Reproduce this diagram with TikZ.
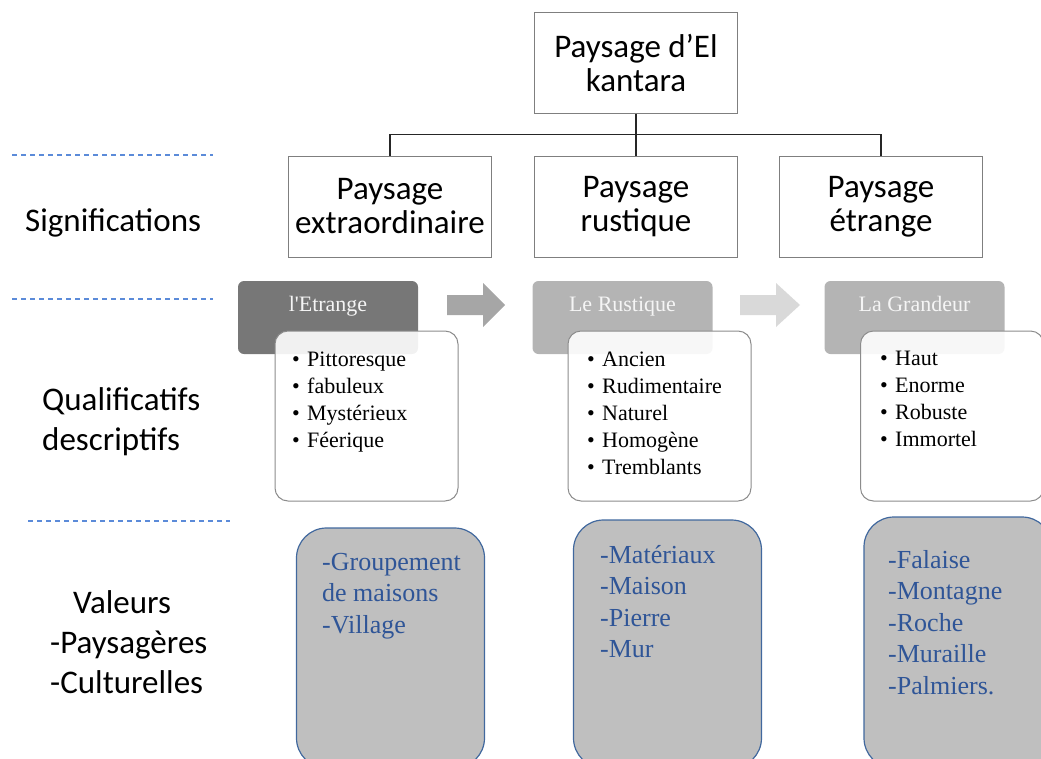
\documentclass[tikz,border=0pt]{standalone}
\usepackage{fontspec}
\setmainfont{Liberation Serif}
\newfontfamily\labelfont{Carlito}
\usetikzlibrary{positioning}

\definecolor{boxgray}{HTML}{7F7F7F}
\definecolor{listgray}{HTML}{8C8C8C}
\definecolor{darkhead}{HTML}{777777}
\definecolor{lighthead}{HTML}{B4B4B4}
\definecolor{arrowmid}{HTML}{A6A6A6}
\definecolor{arrowlight}{HTML}{D9D9D9}
\definecolor{valuegray}{HTML}{BFBFBF}
\definecolor{valueblue}{HTML}{41689E}
\definecolor{valuetext}{HTML}{2F5597}
\definecolor{rowblue}{HTML}{5B8BD9}

\tikzset{
  % boxes of the tree
  tree box/.style = {
    draw = boxgray,
    line width = 1pt,
    fill = white,
    minimum width = 203pt,
    minimum height = 101pt,
    align = center,
    inner sep = 0,
    font = \labelfont\fontsize{33}{34}\selectfont
  },
  tree line/.style = {
    draw = black!85,
    line width = 1.4pt
  },
  % row titles on the left
  row label/.style = {
    anchor = base west,
    inner sep = 0,
    font = \labelfont\fontsize{33}{40}\selectfont
  },
  row line/.style = {
    draw = rowblue,
    line width = 1.2pt,
    dash pattern = on 5pt off 4pt
  },
  % coloured headers with their lists
  head box/.style = {
    rounded corners = 6pt,
    minimum width = 180pt,
    minimum height = 73pt
  },
  head text/.style = {
    anchor = base,
    text = white!96!black,
    inner sep = 0,
    font = \fontsize{22}{26}\selectfont
  },
  list box/.style = {
    draw = listgray,
    line width = 1pt,
    fill = white,
    fill opacity = 0.9,
    rounded corners = 13pt,
    minimum width = 183pt,
    minimum height = 170pt
  },
  item/.style = {
    anchor = base west,
    inner sep = 0,
    font = \fontsize{22}{26}\selectfont
  },
  % grey boxes of values
  value box/.style = {
    draw = valueblue,
    line width = 1.2pt,
    fill = valuegray,
    rounded corners = 30pt,
    minimum width = 188pt
  },
  value/.style = {
    anchor = base west,
    inner sep = 0,
    text = valuetext,
    font = \fontsize{26}{31}\selectfont
  }
}

\newcommand{\bulletitem}[1]{\makebox[15pt][l]{\textbullet}#1}

\begin{document}
\begin{tikzpicture}[x=1pt, y=-1pt]
  \clip (0,0) rectangle (1041,758);

  % tree
  \node[tree box] (top) at (636,62.5) {Paysage d’El\\kantara};
  \node[tree box] (sig1) at (390,206.5) {Paysage\\extraordinaire};
  \node[tree box] (sig2) at (636,206.5) {Paysage\\rustique};
  \node[tree box] (sig3) at (881,206.5) {Paysage\\étrange};
  \draw[tree line] (top) -- (sig2);
  \draw[tree line] (sig1.north) -- ++(0,-21) -| (sig3.north);

  % rows
  \draw[row line] (12,155) -- (213,155);
  \draw[row line] (12,299) -- (213,299);
  \draw[row line] (28,521) -- (230,521);
  \node[row label] (lab-sig) at (25,231) {Significations};
  \node[row label] (lab-qual) at (42,410) {Qualificatifs};
  \node[row label] (lab-desc) at (42,450) {descriptifs};
  \node[row label] (lab-val) at (73,613) {Valeurs};
  \node[row label] (lab-pays) at (50,653) {-Paysagères};
  \node[row label] (lab-cult) at (50,693) {-Culturelles};

  % headers
  \node[head box, fill=darkhead] (head1) at (328,317.5) {};
  \node[head box, fill=lighthead] (head2) at (622.5,317.5) {};
  \node[head box, fill=lighthead] (head3) at (914.5,317.5) {};
  \node[head text] (head1-t) at ([yshift=6.5pt]head1.center) {l\textquotesingle Etrange};
  \node[head text] (head2-t) at ([yshift=6.5pt]head2.center) {Le Rustique};
  \node[head text] (head3-t) at ([yshift=6.5pt]head3.center) {La Grandeur};

  \fill[arrowmid] (447,295) -- (483,295) -- (483,283) -- (505,305)
    -- (483,327) -- (483,315) -- (447,315) -- cycle;
  \fill[arrowlight] (740,295) -- (776,295) -- (776,283) -- (800,305)
    -- (776,327) -- (776,315) -- (740,315) -- cycle;

  % lists
  \node[list box] (list1) at (366.5,416) {};
  \node[list box] (list2) at (659.5,416) {};
  \node[list box] (list3) at (952,416) {};
  \foreach \w [count=\i] in {Pittoresque, fabuleux, Mystérieux, Féerique}
    \node[item] (q1-\i) at (292,366+27*\i-27) {\bulletitem{\w}};
  \foreach \w [count=\i] in {Ancien, Rudimentaire, Naturel, Homogène, Tremblants}
    \node[item] (q2-\i) at (587,366+27*\i-27) {\bulletitem{\w}};
  \foreach \w [count=\i] in {Haut, Enorme, Robuste, Immortel}
    \node[item] (q3-\i) at (880,365+27*\i-27) {\bulletitem{\w}};

  % values
  \node[value box, minimum height=240pt] (val1) at (390.5,648) {};
  \node[value box, minimum height=248pt] (val2) at (667.5,644) {};
  \node[value box, minimum height=251pt] (val3) at (958,642.5) {};
  \foreach \w [count=\i] in {-Groupement, de maisons, -Village}
    \node[value] (v1-\i) at (322,570+31.5*\i-31.5) {\w};
  \foreach \w [count=\i] in {-Matériaux, -Maison, -Pierre, -Mur}
    \node[value] (v2-\i) at (600,563+31.5*\i-31.5) {\w};
  \foreach \w [count=\i] in {-Falaise, -Montagne, -Roche, -Muraille, -Palmiers.}
    \node[value] (v3-\i) at (888,568+31.5*\i-31.5) {\w};
\end{tikzpicture}
\end{document}
